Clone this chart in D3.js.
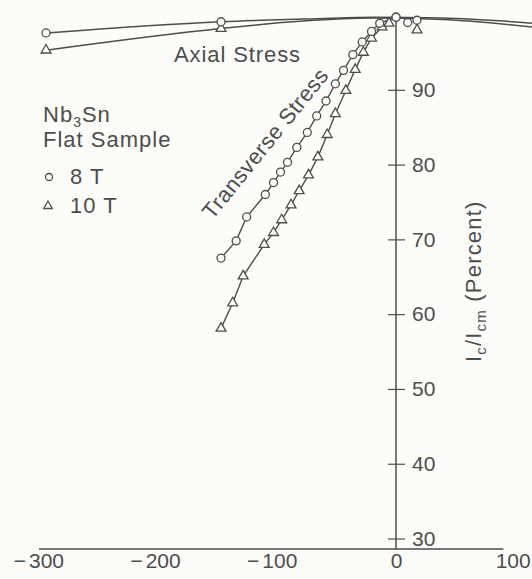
<!DOCTYPE html>
<html>
<head>
<meta charset="utf-8">
<script src="https://cdn.jsdelivr.net/npm/d3@7"></script>
<style>
  html, body { margin: 0; padding: 0; background: #fcfcf9; }
  svg { display: block; }
  text { font-family: "Liberation Sans", Arial, Helvetica, sans-serif; fill: #4d4d4d; }
</style>
</head>
<body>
<svg id="chart" width="532" height="579"></svg>
<script>
// Critical current ratio Ic/Icm vs. applied stress (MPa), Nb3Sn flat sample

// Axial stress: measured points
const axial8Stress = [-300, -150, 0, 10, 18];
const axial8Ic     = [97.6, 99.1, 99.7, 99.0, 99.3];
const axial10Stress = [-300, -150, 18];
const axial10Ic     = [95.3, 98.2, 98.0];

// Axial stress: drawn trend curves
const axial8TrendStress  = [-300, -150, -80, -20, 40, 117];
const axial8TrendIc      = [97.6, 99.1, 99.45, 99.7, 99.6, 98.9];
const axial10TrendStress = [-300, -150, -80, -20, 40, 117];
const axial10TrendIc     = [95.3, 98.2, 99.2, 99.6, 99.4, 98.4];

// Transverse stress: 8 T (circles)
const trans8Stress = [-150, -137, -128, -112, -105, -99, -93, -85, -76, -68, -60, -52, -45, -37, -29, -21, -14, 0];
const trans8Ic     = [67.5, 69.8, 73.0, 76.0, 77.6, 79.0, 80.3, 82.3, 84.3, 86.5, 88.5, 90.8, 92.6, 94.7, 96.4, 97.8, 98.9, 99.7];

// Transverse stress: 10 T (triangles)
const trans10Stress = [-150, -140, -131, -113, -105, -98, -90, -83, -75, -67, -59, -52, -43, -35, -28, -21, -12, -6];
const trans10Ic     = [58.1, 61.5, 65.1, 69.3, 70.9, 72.6, 74.6, 76.5, 78.6, 81.0, 84.0, 86.8, 89.9, 92.7, 95.0, 96.9, 98.4, 98.9];

// Axis ticks
const xTicks = [-300, -200, -100, 0, 100];
const yTicks = [30, 40, 50, 60, 70, 80, 90];

const ink = "#4d4d4d";
const paper = "#fcfcf9";
const svg = d3.select("#chart");

const x = d3.scaleLinear().domain([-300, 100]).range([46, 512.7]);
const y = d3.scaleLinear().domain([28.6, 100]).range([549, 15]);

const zip = (a, b) => a.map((v, i) => [v, b[i]]);

// ---- axes ----
const xAxisY = y(28.6);
svg.append("line")
  .attr("x1", x(-306)).attr("x2", x(92))
  .attr("y1", xAxisY).attr("y2", xAxisY)
  .attr("stroke", ink).attr("stroke-width", 1.5);

// x tick labels: digits centred on the tick, minus sign hung to the left
const xAxis = svg.append("g")
  .attr("transform", `translate(0,${xAxisY})`)
  .call(d3.axisBottom(x).tickValues(xTicks).tickSize(0).tickPadding(4)
        .tickFormat(d => String(Math.abs(d))));
xAxis.select(".domain").remove();
xAxis.selectAll("text")
  .attr("font-size", 21).attr("fill", ink)
  .style("font-family", "'Liberation Sans', Arial, sans-serif");
xAxis.selectAll(".tick").each(function(d) {
  if (d >= 0) return;
  const t = d3.select(this).select("text");
  const w = t.node().getComputedTextLength();
  d3.select(this).append("text")
    .attr("x", -w / 2 - 3).attr("y", t.attr("y")).attr("dy", t.attr("dy"))
    .attr("text-anchor", "end").attr("font-size", 21).attr("fill", ink)
    .style("font-family", "'Liberation Sans', Arial, sans-serif")
    .text("\u2212");
});

const yAxisX = x(0);
svg.append("line")
  .attr("x1", yAxisX).attr("x2", yAxisX)
  .attr("y1", y(100)).attr("y2", xAxisY)
  .attr("stroke", ink).attr("stroke-width", 1.5);

const yAxis = svg.append("g")
  .attr("transform", `translate(${yAxisX},0)`)
  .call(d3.axisRight(y).tickValues(yTicks).tickSize(9).tickPadding(7));
yAxis.select(".domain").remove();
yAxis.selectAll(".tick line")
  .attr("x1", -8).attr("x2", 9)
  .attr("stroke", ink).attr("stroke-width", 1.2);
yAxis.selectAll("text")
  .attr("font-size", 21).attr("fill", ink)
  .style("font-family", "'Liberation Sans', Arial, sans-serif");

// y axis title: Ic/Icm (Percent)
const yTitle = svg.append("text")
  .attr("transform", `translate(481,${y(64.4)}) rotate(-90)`)
  .attr("text-anchor", "middle")
  .attr("font-size", 22)
  .attr("letter-spacing", 1.2);
yTitle.append("tspan").text("I");
yTitle.append("tspan").text("c").attr("font-size", 15).attr("dy", 5);
yTitle.append("tspan").text("/I").attr("dy", -5);
yTitle.append("tspan").text("cm").attr("font-size", 15).attr("dy", 5);
yTitle.append("tspan").text(" (Percent)").attr("dy", -5);

// ---- lines ----
const lineLin = d3.line().x(d => x(d[0])).y(d => y(d[1]));
const lineSmooth = d3.line().x(d => x(d[0])).y(d => y(d[1])).curve(d3.curveMonotoneX);

const plot = svg.append("g");
[zip(axial8TrendStress, axial8TrendIc), zip(axial10TrendStress, axial10TrendIc)].forEach(pts => {
  plot.append("path").attr("d", lineSmooth(pts))
    .attr("fill", "none").attr("stroke", ink).attr("stroke-width", 1.5);
});
[zip(trans8Stress, trans8Ic), zip(trans10Stress, trans10Ic)].forEach(pts => {
  plot.append("path").attr("d", lineLin(pts))
    .attr("fill", "none").attr("stroke", ink).attr("stroke-width", 1.4);
});

// ---- markers ----
const tri = d3.symbol().type(d3.symbolTriangle).size(42);
function circles(pts) {
  plot.selectAll(null).data(pts).join("circle")
    .attr("cx", d => x(d[0])).attr("cy", d => y(d[1])).attr("r", 4)
    .attr("fill", paper).attr("stroke", ink).attr("stroke-width", 1.3);
}
function triangles(pts) {
  plot.selectAll(null).data(pts).join("path")
    .attr("d", tri)
    .attr("transform", d => `translate(${x(d[0])},${y(d[1])})`)
    .attr("fill", paper).attr("stroke", ink).attr("stroke-width", 1.3);
}
triangles(zip(trans10Stress, trans10Ic));
circles(zip(trans8Stress, trans8Ic));
triangles(zip(axial10Stress, axial10Ic));
circles(zip(axial8Stress, axial8Ic));

// ---- annotations ----
svg.append("text")
  .attr("x", 174).attr("y", 62)
  .attr("font-size", 22).attr("letter-spacing", 0.9)
  .text("Axial Stress");

svg.append("text")
  .attr("transform", `translate(${x(-107)},${y(82.2)}) rotate(-51)`)
  .attr("text-anchor", "middle")
  .attr("font-size", 22).attr("letter-spacing", 0.5)
  .text("Transverse Stress");

// ---- legend ----
const lg = svg.append("g").attr("font-size", 22).attr("letter-spacing", 1);
const nb = lg.append("text").attr("x", 43).attr("y", 122);
nb.append("tspan").text("Nb");
nb.append("tspan").text("3").attr("font-size", 14).attr("dy", 5);
nb.append("tspan").text("Sn").attr("dy", -5);
lg.append("text").attr("x", 43).attr("y", 147).text("Flat Sample");

lg.append("circle").attr("cx", 49).attr("cy", 177).attr("r", 3.5)
  .attr("fill", "none").attr("stroke", ink).attr("stroke-width", 1.3);
lg.append("text").attr("x", 70).attr("y", 184).text("8 T");
lg.append("path").attr("d", d3.symbol().type(d3.symbolTriangle).size(32))
  .attr("transform", "translate(48,206)")
  .attr("fill", "none").attr("stroke", ink).attr("stroke-width", 1.3);
lg.append("text").attr("x", 70).attr("y", 213).text("10 T");
</script>
</body>
</html>
